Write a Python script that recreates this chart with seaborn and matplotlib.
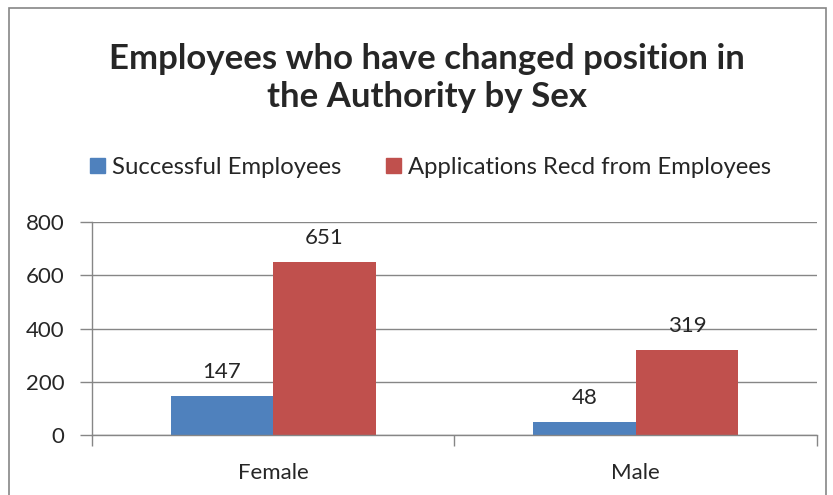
import matplotlib
matplotlib.use("Agg")
import matplotlib.pyplot as plt
from matplotlib.patches import Rectangle
import seaborn as sns
import pandas as pd

categories = ["Female", "Male"]
series_names = ["Successful Employees", "Applications Recd from Employees"]
successful = [147, 48]
applications = [651, 319]
y_ticks = [0, 200, 400, 600, 800]

df = pd.DataFrame({
    "Sex": categories * 2,
    "Series": [series_names[0]] * len(categories) + [series_names[1]] * len(categories),
    "Count": successful + applications,
})

sns.set_style("white")
plt.rcParams["font.family"] = ["Lato", "DejaVu Sans"]

colors = ["#4F81BD", "#C0504D"]
axis_gray = "#868686"
fs = 16

fig = plt.figure(figsize=(8.33, 4.95), dpi=100)
ax = fig.add_axes([0.1104, 0.1212, 0.8704, 0.4303])

sns.barplot(data=df, x="Sex", y="Count", hue="Series", order=categories,
            hue_order=series_names, palette=colors, width=0.565,
            saturation=1, ax=ax, legend=False, linewidth=0)

ax.set_xlim(-0.5, 1.5)
ax.set_ylim(0, 800)
ax.set_yticks(y_ticks)
ax.set_yticklabels([str(v) for v in y_ticks])
ax.yaxis.grid(True, color=axis_gray, linewidth=1)
ax.set_axisbelow(True)
ax.set_xlabel("")
ax.set_ylabel("")

for side in ["top", "right"]:
    ax.spines[side].set_visible(False)
for side in ["left", "bottom"]:
    ax.spines[side].set_color(axis_gray)
    ax.spines[side].set_linewidth(1)

ax.tick_params(axis="y", which="major", length=9, width=1, color=axis_gray,
               labelsize=fs, pad=11, direction="out", left=True)
ax.tick_params(axis="x", which="major", length=0, labelsize=fs, pad=20)
ax.set_xticks([-0.5, 0.5, 1.5], minor=True)
ax.tick_params(axis="x", which="minor", length=8, width=1, color=axis_gray,
               direction="out", bottom=True)

for container in ax.containers:
    ax.bar_label(container, labels=[f"{v:.0f}" for v in container.datavalues],
                 padding=10, fontsize=fs)

# Legend row above the plot
handles = [Rectangle((0, 0), 1, 1, color=c) for c in colors]
fig.legend(handles, series_names, loc="center", bbox_to_anchor=(0.517, 0.662),
           ncol=2, frameon=False, fontsize=17.2, handlelength=0.6,
           handleheight=0.6, handletextpad=0.3, columnspacing=1.9)

fig.text(0.513, 0.842, "Employees who have changed position in\nthe Authority by Sex",
         ha="center", va="center", fontsize=25, fontweight="bold",
         linespacing=1.22)

# Chart area border
fig.patches.append(Rectangle((9 / 833, -0.05), 817 / 833, 1 - 8 / 495 + 0.05,
                             transform=fig.transFigure, fill=False,
                             edgecolor=axis_gray, linewidth=1.2))

fig.savefig("out.png", dpi=100)
